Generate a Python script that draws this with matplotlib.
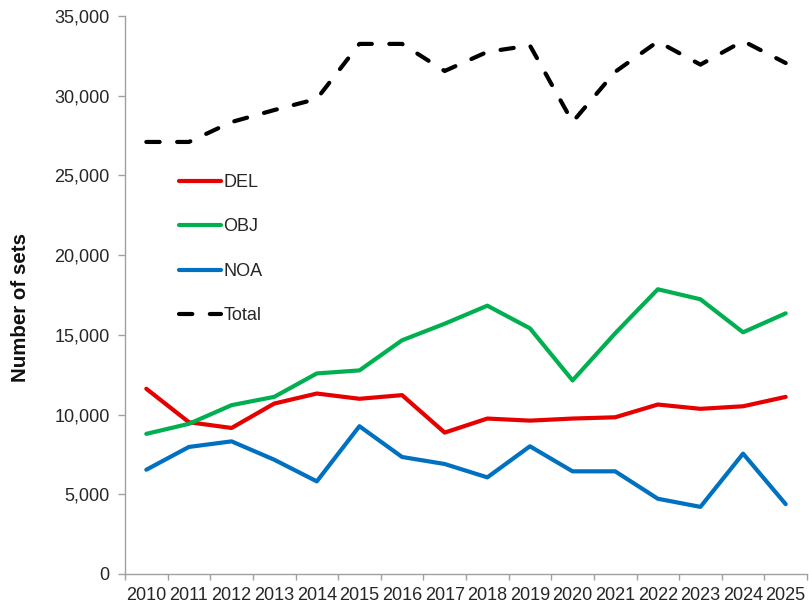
import matplotlib
matplotlib.use("Agg")
import matplotlib.pyplot as plt
import numpy as np

years = [str(y) for y in range(2010, 2026)]
DEL = [11620, 9520, 9160, 10690, 11320, 10990, 11220, 8870, 9750, 9620, 9750, 9830, 10630, 10360, 10520, 11110]
OBJ = [8790, 9420, 10590, 11110, 12580, 12770, 14660, 15700, 16830, 15410, 12140, 15100, 17860, 17230, 15160, 16350]
NOA = [6540, 7970, 8320, 7170, 5810, 9270, 7340, 6900, 6060, 8010, 6440, 6440, 4720, 4210, 7550, 4380]
TOTAL = [27100, 27100, 28350, 29100, 29800, 33250, 33250, 31550, 32750, 33150, 28350, 31500, 33400, 31950, 33430, 32050]

plt.rcParams['font.family'] = ['Liberation Sans', 'DejaVu Sans']

fig = plt.figure(figsize=(8.09, 6.06), dpi=100)
ax = fig.add_axes([125/809, 1-574/606, 682/809, 558/606])

x = np.arange(len(years))
ax.plot(x, DEL, color='#E60000', lw=3, label='DEL', solid_capstyle='round', solid_joinstyle='round')
ax.plot(x, OBJ, color='#00B050', lw=3, label='OBJ', solid_capstyle='round', solid_joinstyle='round')
ax.plot(x, NOA, color='#0070C0', lw=3, label='NOA', solid_capstyle='round', solid_joinstyle='round')
ax.plot(x, TOTAL, color='black', lw=3, label='Total', dashes=(3.2, 4.2), dash_capstyle='round')

ax.set_xlim(-0.5, len(years) - 0.5)
ax.set_ylim(0, 35000)
ax.set_yticks(np.arange(0, 35001, 5000))
ax.set_yticklabels([f"{v:,}" for v in range(0, 35001, 5000)])
ax.set_xticks(x)
ax.set_xticklabels(years)
ax.set_xticks(np.arange(-0.5, len(years), 1), minor=True)

for s in ['top', 'right']:
    ax.spines[s].set_visible(False)
for s in ['left', 'bottom']:
    ax.spines[s].set_color('#A0A0A0')
    ax.spines[s].set_linewidth(1)

ax.tick_params(axis='x', which='major', length=0, pad=9, labelsize=13, colors='#262626')
ax.tick_params(axis='x', which='minor', length=4, width=1, color='#A0A0A0', direction='out')
ax.tick_params(axis='y', which='major', length=5, width=1, color='#A0A0A0', pad=6, labelsize=13, labelcolor='#262626')

ax.set_ylabel('Number of sets', fontsize=14.8, fontweight='bold', color='#111111')
ax.yaxis.set_label_coords(-95/682, (574-307)/558)

leg = ax.legend(loc='upper left', bbox_to_anchor=((179-125)/682, (574-174)/558), frameon=False,
                fontsize=13, handlelength=2.3, handletextpad=0.15, labelspacing=1.52,
                borderpad=0, borderaxespad=0)
for t in leg.get_texts():
    t.set_color('#262626')

fig.savefig('out.png', dpi=100)
